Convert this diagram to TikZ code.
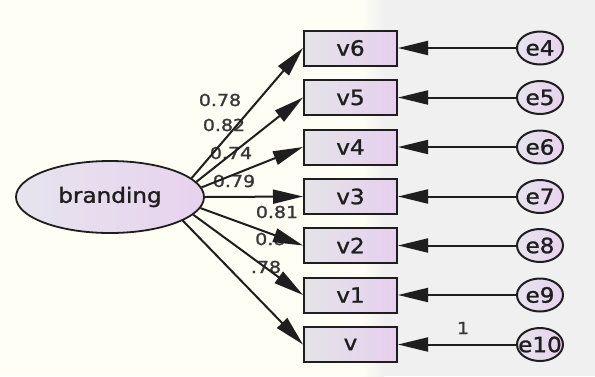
\documentclass[tikz,border=0pt]{standalone}
\usepackage{fontspec}
\setmainfont{DejaVu Sans}
\newfontfamily\heavy[FakeBold=1.2]{DejaVu Sans}
\usetikzlibrary{shapes.geometric,arrows.meta}
\definecolor{cream}{HTML}{FEFEF5}
\definecolor{bggray}{HTML}{F0F0F0}
\definecolor{boxl}{HTML}{E4E4E8}
\definecolor{boxr}{HTML}{E6CFEE}
\definecolor{ell}{HTML}{E6E4EE}
\definecolor{elr}{HTML}{E8D2EE}
\definecolor{ink}{HTML}{1E1E1E}
\definecolor{numc}{HTML}{383838}
\newcommand{\wtxt}[1]{\scalebox{1.1}[1]{#1}}
\newcommand{\ntxt}[1]{\scalebox{1.15}[1]{#1}}
\begin{document}
\begin{tikzpicture}[x=1pt,y=-1pt,
  lbl/.style={font=\heavy\fontsize{21}{21}\selectfont, text=ink},
  obsbox/.style={lbl, draw=ink, line width=2pt, minimum width=93pt, minimum height=35pt, inner sep=0pt, left color=boxl, right color=boxr},
  errell/.style={lbl, ellipse, draw=ink, line width=2pt, minimum width=46pt, minimum height=33pt, inner sep=0pt, left color=ell, right color=elr},
  latent/.style={lbl, ellipse, draw=ink, line width=1.8pt, minimum width=188pt, minimum height=72pt, inner sep=0pt, left color=ell, right color=elr},
  num/.style={font=\heavy\fontsize{16.5}{16.5}\selectfont, text=numc, inner sep=0pt},
  path/.style={draw=ink, line width=2pt, -{Triangle[length=30pt,width=14pt]}}
]
\useasboundingbox (0,0) rectangle (595,376);
\fill[cream] (0,0) rectangle (362,376);
\shade[left color=cream, right color=bggray] (362,0) rectangle (384,376);
\fill[bggray] (384,0) rectangle (595,376);

\node[latent] (br) at (110,197) {\wtxt{branding}};

\foreach \n/\y/\e in {v6/48/e4, v5/97.5/e5, v4/147/e6, v3/196.5/e7, v2/245.5/e8, v1/295/e9, v/344.5/e10} {
  \node[obsbox] (\n) at (350.5,\y) {\wtxt{\n}};
  \node[errell] (\e) at (540,\y) {\makebox[0pt]{\wtxt{\e}}};
}

\node[num] (l6) at (220,100) {\ntxt{0.78}};
\node[num] (l5) at (224,125) {\ntxt{0.82}};
\node[num] (l4) at (231,153) {\ntxt{0.74}};
\node[num] (l3) at (234,181) {\ntxt{0.79}};
\node[num] (l2) at (277,212) {\ntxt{0.81}};
\node[num, anchor=west] (l1) at (255,239) {\ntxt{0.8}};
\node[num] (l0) at (266,267) {\ntxt{.78}};
\node[num] (one) at (463,328) {\ntxt{1}};

\draw[path] (br.13) -- (v6.west);
\draw[path] (br.10) -- (v5.west);
\draw[path] (br.6) -- (v4.west);
\draw[path] (br.0) -- (v3.west);
\draw[path] (br.-7) -- (v2.west);
\draw[path] (br.-12.5) -- (v1.west);
\draw[path] (br.-18) -- (v.west);

\foreach \n/\e in {v6/e4, v5/e5, v4/e6, v3/e7, v2/e8, v1/e9, v/e10} {
  \draw[path] (\e.west) -- (\n.east);
}
\end{tikzpicture}
\end{document}
